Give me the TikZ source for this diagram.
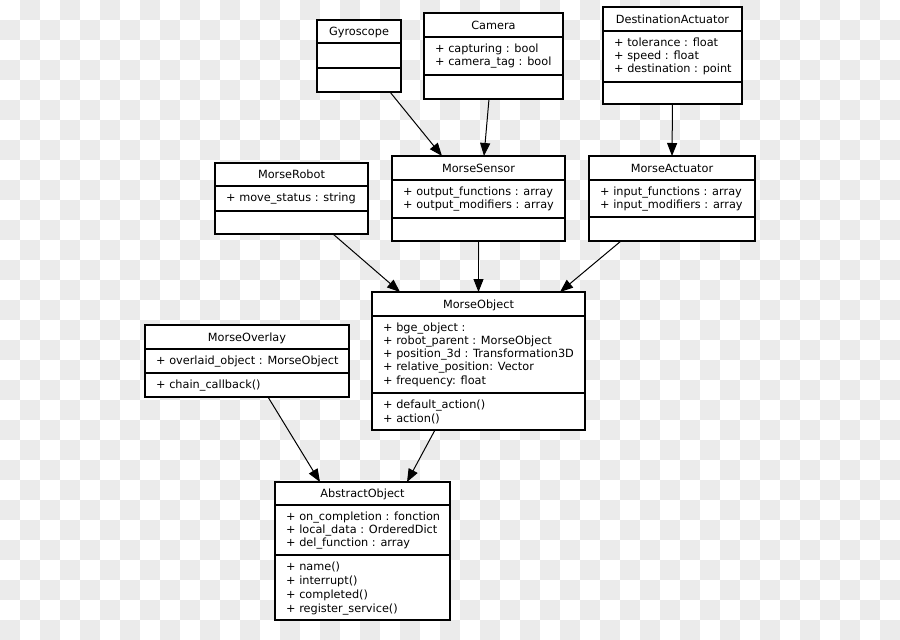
\documentclass[tikz,border=0pt]{standalone}
\usepackage{fontspec}
\setmainfont{DejaVu Sans}
\usetikzlibrary{arrows.meta}
\definecolor{checker}{HTML}{EBEBEB}
\tikzset{
  classbox/.style={draw=black, fill=white, line width=1.1pt, inner sep=0pt, outer sep=0pt},
  divider/.style={draw=black, line width=1.1pt},
  titletext/.style={anchor=base, inner sep=0pt, font=\fontsize{11.3}{13.3}\selectfont},
  linetext/.style={anchor=base west, inner sep=0pt, font=\fontsize{11.3}{13.3}\selectfont},
  inherit/.style={draw=black, line width=1pt, -{Triangle[length=13pt,width=10pt]}}
}
% name, left, top, right, divider1, divider2, bottom, title
\newcommand\umlbox[8]{%
  \node[classbox, minimum width={(#4-#2)*1pt}, minimum height={(#7-#3)*1pt}, anchor=north west] (#1) at (#2,#3) {};
  \draw[divider] (#2,#5) -- (#4,#5);
  \draw[divider] (#2,#6) -- (#4,#6);
  \node[titletext] (#1-title) at ({(#2+#4)/2},{#5-8}) {#8};
}
% name, x, first baseline, spacing, list of lines
\newcommand\umllines[5]{%
  \foreach \txt [count=\k] in {#5} {\node[linetext] (#1-\k) at (#2,{#3+(\k-1)*#4}) {\txt};}
}
\begin{document}
\begin{tikzpicture}[x=1pt,y=-1pt]
\useasboundingbox (0,0) rectangle (900,640);
% checkerboard background
\foreach \j in {0,...,31} {
  \pgfmathtruncatemacro\s{mod(\j+1,2)}
  \pgfmathtruncatemacro\t{\s+2}
  \foreach \i in {\s,\t,...,44} {
    \fill[checker] ({\i*20},{\j*20}) rectangle ++(20,20);
  }
}
% classes
\umlbox{gyro}{317}{20}{401}{43}{68}{92}{Gyroscope}
\umlbox{camera}{424}{13}{563}{37}{75}{99}{Camera}
\umllines{camera-a}{435}{52}{13.3}{{+ capturing : bool},{+ camera\_tag : bool}}
\umlbox{dest}{603}{7}{742}{31}{82}{104}{DestinationActuator}
\umllines{dest-a}{614}{46}{13.3}{{+ tolerance : float},{+ speed : float},{+ destination : point}}
\umlbox{robot}{215}{163}{368}{186}{211}{234}{MorseRobot}
\umllines{robot-a}{226}{201}{13.3}{{+ move\_status : string}}
\umlbox{sensor}{392}{156}{565}{180}{218}{241}{MorseSensor}
\umllines{sensor-a}{403}{195}{13.3}{{+ output\_functions : array},{+ output\_modifiers : array}}
\umlbox{actuator}{589}{156}{755}{180}{217}{241}{MorseActuator}
\umllines{actuator-a}{600}{195}{13.3}{{+ input\_functions : array},{+ input\_modifiers : array}}
\umlbox{object}{372}{292}{585}{316}{393}{430}{MorseObject}
\umllines{object-a}{383}{331}{13.3}{{+ bge\_object :},{+ robot\_parent : MorseObject},{+ position\_3d : Transformation3D},{+ relative\_position: Vector},{+ frequency: float}}
\umllines{object-m}{383}{408}{14}{{+ default\_action()},{+ action()}}
\umlbox{overlay}{145}{325}{349}{349}{373}{397}{MorseOverlay}
\umllines{overlay-a}{156}{364}{13.3}{{+ overlaid\_object : MorseObject}}
\umllines{overlay-m}{156}{388}{14}{{+ chain\_callback()}}
\umlbox{abstract}{275}{482}{450}{505}{555}{620}{AbstractObject}
\umllines{abstract-a}{286}{520}{13.3}{{+ on\_completion : fonction},{+ local\_data : OrderedDict},{+ del\_function : array}}
\umllines{abstract-m}{286}{570}{14}{{+ name()},{+ interrupt()},{+ completed()},{+ register\_service()}}
% inheritance arrows
\draw[inherit] ([xshift=31pt]gyro.south) -- ([xshift=-36.5pt]sensor.north);
\draw[inherit] ([xshift=-4.5pt]camera.south) -- ([xshift=5.5pt]sensor.north);
\draw[inherit] (dest.south) -- (actuator.north);
\draw[inherit] ([xshift=41.5pt]robot.south) -- ([xshift=-78.5pt]object.north);
\draw[inherit] (sensor.south) -- (object.north);
\draw[inherit] ([xshift=-51pt]actuator.south) -- ([xshift=81.5pt]object.north);
\draw[inherit] ([xshift=21pt]overlay.south) -- ([xshift=-42.5pt]abstract.north);
\draw[inherit] ([xshift=-43.5pt]object.south) -- ([xshift=44.5pt]abstract.north);
\end{tikzpicture}
\end{document}
